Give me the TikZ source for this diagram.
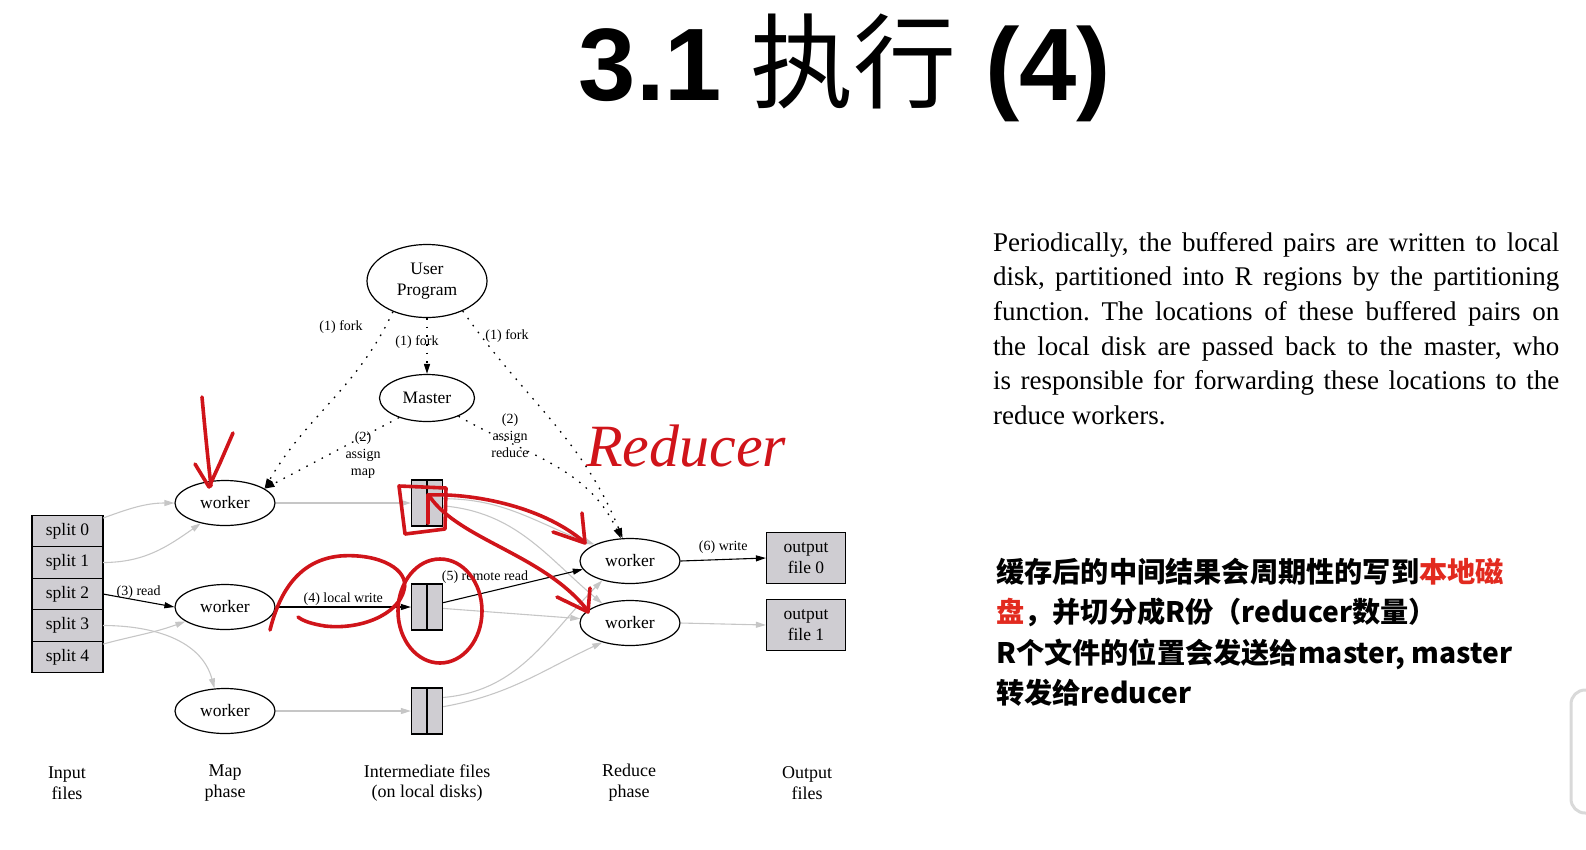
\documentclass[tikz,border=0pt]{standalone}
\usepackage{fontspec}
\setmainfont{Liberation Serif}
\newfontfamily\headfont{Liberation Sans}
\newfontfamily\cjk{Noto Sans CJK SC}
\usetikzlibrary{shapes.geometric,arrows.meta,positioning}

\definecolor{boxgray}{HTML}{CFCDD2}
\definecolor{edgegray}{HTML}{C6C6C6}
\definecolor{inkred}{HTML}{D0141A}
\definecolor{hlred}{HTML}{E22A1F}

\begin{document}
\frenchspacing
\begin{tikzpicture}[x=1pt,y=-1pt,
    proc/.style={draw, ellipse, line width=1.2pt, inner sep=0pt, minimum width=100pt, minimum height=45pt, font=\fontsize{17.5}{21}\selectfont},
    splitbox/.style={draw, fill=boxgray, line width=1.2pt, outer sep=0pt, minimum width=71pt, minimum height=31.5pt, inner sep=0pt, font=\fontsize{17.5}{21}\selectfont},
    filebox/.style={draw, fill=boxgray, line width=1.2pt, minimum width=31pt, minimum height=46pt, inner sep=0pt},
    outbox/.style={draw, fill=boxgray, line width=1.2pt, minimum width=79pt, minimum height=51pt, inner sep=0pt, align=center, font=\fontsize{17.5}{20.5}\selectfont},
    lbl/.style={font=\fontsize{14}{17}\selectfont, align=center, inner sep=1pt},
    phase/.style={font=\fontsize{18}{20.7}\selectfont, align=center},
    flow/.style={-{Triangle[length=10pt,width=6pt]}, line width=1.1pt},
    faint/.style={flow, draw=edgegray},
    ctrl/.style={flow, dash pattern=on 1.6pt off 7pt, line width=1.3pt},
    ink/.style={draw=inkred, line width=3.6pt, line cap=round, line join=round}
]
\useasboundingbox (0,0) rectangle (1586,849);

% Title
\node[font=\headfont\fontsize{103}{103}\selectfont] (title) at (845,68) {\bfseries 3.1 {\cjk\mdseries 执行} (4)};

% Master and user program
\node[proc, minimum width=120pt, minimum height=73pt, align=center] (user) at (427,281) {User\\Program};
\node[proc, minimum width=95pt, minimum height=47pt] (master) at (427,398) {Master};

% Input splits
\node[splitbox] (s0) at (67.5,531) {split 0};
\node[splitbox, below=0pt of s0] (s1) {split 1};
\node[splitbox, below=0pt of s1] (s2) {split 2};
\node[splitbox, below=0pt of s2] (s3) {split 3};
\node[splitbox, below=0pt of s3] (s4) {split 4};

% Map workers
\node[proc] (map1) at (225,503) {worker};
\node[proc] (map2) at (225,607) {worker};
\node[proc] (map3) at (225,711) {worker};

% Intermediate files
\node[filebox] (f1) at (427,503) {};
\node[filebox] (f2) at (427,607) {};
\node[filebox] (f3) at (427,711) {};
\draw[line width=1.2pt] (f1.north) -- (f1.south);
\draw[line width=1.2pt] (f2.north) -- (f2.south);
\draw[line width=1.2pt] (f3.north) -- (f3.south);

% Reduce workers and output files
\node[proc] (red1) at (630,561) {worker};
\node[proc] (red2) at (630,623) {worker};
\node[outbox] (o0) at (806,558) {output\\file 0};
\node[outbox] (o1) at (806,625) {output\\file 1};

% Fork and assign
\draw[ctrl] (user.south) -- (master.north);
\draw[ctrl] (user.222) to[out=245,in=60] (map1.20);
\draw[ctrl] (user.320) to[out=305,in=112] (red1.108);
\draw[ctrl] (master.215) -- (map1.20);
\draw[ctrl] (master.330) to[out=330,in=115] (red1.112);
\node[lbl] (fork1) at (341,327) {(1) fork};
\node[lbl] (fork2) at (417,342) {(1) fork};
\node[lbl] (fork3) at (507,336) {(1) fork};
\node[lbl] (amap) at (363,455) {(2)\\assign\\map};
\node[lbl] (ared) at (510,436) {(2)\\assign\\reduce};

% Map phase
\draw[faint] (s0.20) to[out=20,in=180] (map1.west);
\draw[faint] (s1.east) to[out=0,in=215] (map1.220);
\draw[flow] (s2.east) -- node[lbl, midway, above] {(3) read} (map2.west);
\draw[faint] (s3.east) to[out=0,in=105] (map3.115);
\draw[faint] (s4.20) to[out=15,in=200] (map2.200);
\draw[faint] (map1.east) -- (f1.west);
\draw[flow] (map2.east) -- node[lbl, midway, above] {(4) local write} (f2.west);
\draw[faint] (map3.east) -- (f3.west);

% Reduce phase
\draw[faint] (f1.15) to[out=0,in=160] (red1.155);
\draw[faint] (f1.-10) to[out=-5,in=140] (red2.145);
\draw[flow] (f2.15) -- node[lbl, pos=0.3, above=8pt] {(5) remote read} (red1.190);
\draw[faint] (f2.-5) -- (red2.175);
\draw[faint] (f3.40) to[out=5,in=225] (red1.215);
\draw[faint] (f3.15) to[out=10,in=205] (red2.215);
\draw[flow] (red1.east) -- node[lbl, midway, above=4pt] {(6) write} (o0.west);
\draw[faint] (red2.east) -- (o1.west);

% Column captions
\node[phase] (cap1) at (67,783) {Input\\files};
\node[phase] (cap2) at (225,783) {Map\\phase};
\node[phase] (cap3) at (427,783) {Intermediate files\\(on local disks)};
\node[phase] (cap4) at (629,783) {Reduce\\phase};
\node[phase] (cap5) at (807,783) {Output\\files};

% Notes on the right
\node[anchor=north west, inner sep=0pt, text width=566pt, align=justify, font=\fontsize{27}{34.6}\selectfont] (note) at (993,232) {Periodically, the buffered pairs are written to local\linebreak disk, partitioned into R regions by the partitioning\linebreak function. The locations of these buffered pairs on\linebreak the local disk are passed back to the master, who\linebreak is responsible for forwarding these locations to the\linebreak reduce workers.};
\node[anchor=north west, inner sep=0pt, align=left, font=\cjk\bfseries\fontsize{28.2}{40.3}\selectfont] (cnnote) at (996,558) {缓存后的中间结果会周期性的写到\textcolor{hlred}{本地磁}\\\textcolor{hlred}{盘}，并切分成R份（reducer数量）\\R个文件的位置会发送给master, master\\转发给reducer};

% Handwritten marks
\draw[ink] (202,397) .. controls (205,430) and (208,460) .. (211,486);
\draw[ink] (195,464) -- (209,487) -- (220,463) -- (233,433);
\node[text=inkred, font=\itshape\fontsize{60}{60}\selectfont] (scrawl) at (686,446) {Reducer};
\draw[ink] (399,486) -- (446,488) -- (445,529) -- (405,534) -- cycle;
\draw[ink] (428,523) -- (428,495);
\draw[ink] (428,495) .. controls (470,493) and (540,505) .. (583,541);
\draw[ink] (553,532) -- (585,543) -- (582,513);
\draw[ink] (430,497) .. controls (460,540) and (545,555) .. (588,611);
\draw[ink] (557,597) -- (588,612) -- (590,588);
\draw[ink] (270,630) .. controls (280,590) and (300,560) .. (340,556) .. controls (380,553) and (410,570) .. (404,590) .. controls (398,615) and (360,630) .. (325,626) .. controls (312,624) and (303,621) .. (298,617);
\draw[ink] (440,611) ellipse [x radius=42pt, y radius=52pt];

% Edge of the next window
\draw[black!15, line width=3pt, fill=white, rounded corners=14pt] (1571,690) rectangle (1620,813);
\end{tikzpicture}
\end{document}
